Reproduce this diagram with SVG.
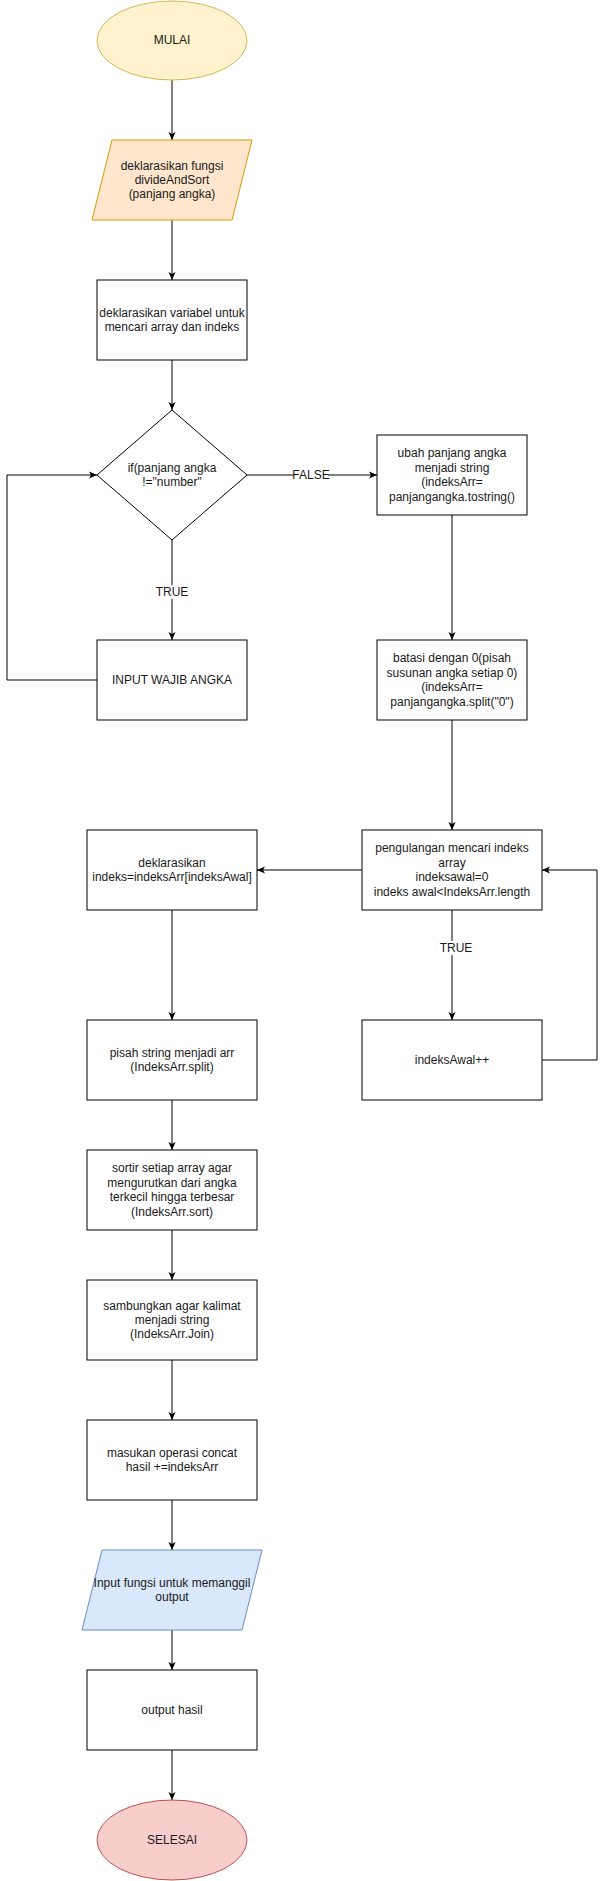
<svg xmlns="http://www.w3.org/2000/svg" width="609" height="1881" viewBox="0 0 609 1881">
<style>
text{font-family:"Liberation Sans",Arial,sans-serif;font-size:12px;fill:#1a1a1a;text-anchor:middle;dominant-baseline:central}
.box{fill:#ffffff;stroke:#000000;stroke-width:1}
.edge{fill:none;stroke:#000000;stroke-width:1}
.lbl{fill:#ffffff;stroke:none}
</style>
<defs>
<marker id="arr" viewBox="0 0 10 10" refX="10" refY="5" markerWidth="8" markerHeight="8" markerUnits="userSpaceOnUse" orient="auto">
<path d="M0,0.5 L10,5 L0,9.5 L2.5,5 z" fill="#000000"/>
</marker>
</defs>
<rect x="0" y="0" width="609" height="1881" fill="#ffffff"/>
<g id="connectors">
<path class="edge" d="M172,80 L172,140" marker-end="url(#arr)"/>
<path class="edge" d="M172,220 L172,280" marker-end="url(#arr)"/>
<path class="edge" d="M172,360 L172,410" marker-end="url(#arr)"/>
<path class="edge" d="M247,475 L377,475" marker-end="url(#arr)"/>
<path class="edge" d="M172,540 L172,640" marker-end="url(#arr)"/>
<path class="edge" d="M97,680 L7,680 L7,475 L97,475" marker-end="url(#arr)"/>
<path class="edge" d="M452,515 L452,640" marker-end="url(#arr)"/>
<path class="edge" d="M452,720 L452,830" marker-end="url(#arr)"/>
<path class="edge" d="M362,870 L257,870" marker-end="url(#arr)"/>
<path class="edge" d="M452,910 L452,1020" marker-end="url(#arr)"/>
<path class="edge" d="M542,1060 L597,1060 L597,870 L542,870" marker-end="url(#arr)"/>
<path class="edge" d="M172,910 L172,1020" marker-end="url(#arr)"/>
<path class="edge" d="M172,1100 L172,1150" marker-end="url(#arr)"/>
<path class="edge" d="M172,1230 L172,1280" marker-end="url(#arr)"/>
<path class="edge" d="M172,1360 L172,1420" marker-end="url(#arr)"/>
<path class="edge" d="M172,1500 L172,1550" marker-end="url(#arr)"/>
<path class="edge" d="M172,1630 L172,1670" marker-end="url(#arr)"/>
<path class="edge" d="M172,1750 L172,1800" marker-end="url(#arr)"/>
<rect class="lbl" x="294" y="468" width="34" height="14"/>
<text x="311" y="475">FALSE</text>
<rect class="lbl" x="157" y="585" width="30" height="14"/>
<text x="172" y="592">TRUE</text>
<rect class="lbl" x="441" y="941" width="30" height="14"/>
<text x="456" y="948">TRUE</text>
</g>
<g id="mulai">
<ellipse cx="172" cy="40.5" rx="75" ry="39.5" fill="#fff2cc" stroke="#d6b656"/>
<text x="172" y="40">MULAI</text>
</g>
<g id="deklarasi-fungsi">
<polygon points="112,140 252,140 232,220 92,220" fill="#ffe6cc" stroke="#d79b00"/>
<text x="172" y="165.6">deklarasikan fungsi</text>
<text x="172" y="180">divideAndSort</text>
<text x="172" y="194.4">(panjang angka)</text>
</g>
<g id="deklarasi-variabel">
<rect class="box" x="97" y="280" width="150" height="80"/>
<text x="172" y="312.8">deklarasikan variabel untuk</text>
<text x="172" y="327.2">mencari array dan indeks</text>
</g>
<g id="kondisi">
<polygon class="box" points="172,410 247,475 172,540 97,475"/>
<text x="172" y="467.8">if(panjang angka</text>
<text x="172" y="482.2">!="number"</text>
</g>
<g id="input-wajib">
<rect class="box" x="97" y="640" width="150" height="80"/>
<text x="172" y="680">INPUT WAJIB ANGKA</text>
</g>
<g id="ubah-string">
<rect class="box" x="377" y="435" width="150" height="80"/>
<text x="452" y="453.4">ubah panjang angka</text>
<text x="452" y="467.8">menjadi string</text>
<text x="452" y="482.2">(indeksArr=</text>
<text x="452" y="496.6">panjangangka.tostring()</text>
</g>
<g id="batasi">
<rect class="box" x="377" y="640" width="150" height="80"/>
<text x="452" y="658.4">batasi dengan 0(pisah</text>
<text x="452" y="672.8">susunan angka setiap 0)</text>
<text x="452" y="687.2">(indeksArr=</text>
<text x="452" y="701.6">panjangangka.split("0")</text>
</g>
<g id="pengulangan">
<rect class="box" x="362" y="830" width="180" height="80"/>
<text x="452" y="848.4">pengulangan mencari indeks</text>
<text x="452" y="862.8">array</text>
<text x="452" y="877.2">indeksawal=0</text>
<text x="452" y="891.6">indeks awal&lt;IndeksArr.length</text>
</g>
<g id="increment">
<rect class="box" x="362" y="1020" width="180" height="80"/>
<text x="452" y="1060">indeksAwal++</text>
</g>
<g id="deklarasi-indeks">
<rect class="box" x="87" y="830" width="170" height="80"/>
<text x="172" y="862.8">deklarasikan</text>
<text x="172" y="877.2">indeks=indeksArr[indeksAwal]</text>
</g>
<g id="pisah">
<rect class="box" x="87" y="1020" width="170" height="80"/>
<text x="172" y="1052.8">pisah string menjadi arr</text>
<text x="172" y="1067.2">(IndeksArr.split)</text>
</g>
<g id="sortir">
<rect class="box" x="87" y="1150" width="170" height="80"/>
<text x="172" y="1168.4">sortir setiap array agar</text>
<text x="172" y="1182.8">mengurutkan dari angka</text>
<text x="172" y="1197.2">terkecil hingga terbesar</text>
<text x="172" y="1211.6">(IndeksArr.sort)</text>
</g>
<g id="sambungkan">
<rect class="box" x="87" y="1280" width="170" height="80"/>
<text x="172" y="1305.6">sambungkan agar kalimat</text>
<text x="172" y="1320">menjadi string</text>
<text x="172" y="1334.4">(IndeksArr.Join)</text>
</g>
<g id="concat">
<rect class="box" x="87" y="1420" width="170" height="80"/>
<text x="172" y="1452.8">masukan operasi concat</text>
<text x="172" y="1467.2">hasil +=indeksArr</text>
</g>
<g id="input-fungsi">
<polygon points="102,1550 262,1550 242,1630 82,1630" fill="#dae8fc" stroke="#6c8ebf"/>
<text x="172" y="1582.8">Input fungsi untuk memanggil</text>
<text x="172" y="1597.2">output</text>
</g>
<g id="output">
<rect class="box" x="87" y="1670" width="170" height="80"/>
<text x="172" y="1710">output hasil</text>
</g>
<g id="selesai">
<ellipse cx="172" cy="1840" rx="75" ry="40" fill="#f8cecc" stroke="#b85450"/>
<text x="172" y="1840">SELESAI</text>
</g>
</svg>
